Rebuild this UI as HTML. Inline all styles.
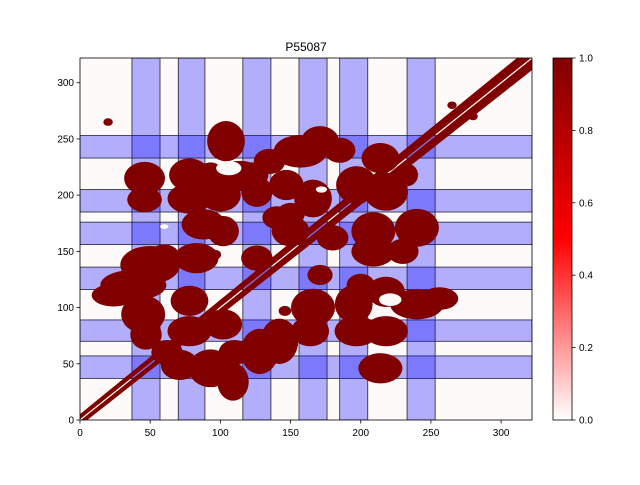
<!DOCTYPE html>
<html><head><meta charset="utf-8"><style>
body{margin:0;background:#fff;font-family:"Liberation Sans",sans-serif;}
svg text{font-family:"Liberation Sans",sans-serif;}
</style></head><body>
<svg id="chart" width="640" height="480" xmlns="http://www.w3.org/2000/svg">
<defs>
<linearGradient id="cbg" x1="0" y1="1" x2="0" y2="0">
<stop offset="0" stop-color="#ffffff"/><stop offset="0.5" stop-color="#ff0000"/><stop offset="1" stop-color="#800000"/>
</linearGradient>
<clipPath id="clip"><rect x="80" y="58" width="452" height="362"/></clipPath>
</defs>
<text x="306" y="51" text-anchor="middle" font-size="12">P55087</text>
<g id="plot" clip-path="url(#clip)"></g>
<g id="axes"></g>
<rect x="553" y="58" width="19" height="362" fill="url(#cbg)" stroke="#000" stroke-width="0.8"/>
<g id="cbar"></g>
</svg>
<script>
const xMax=322, yMax=322;
const bandStarts=[37,70,116,156,185,233];
const bandEnds=[57,89,136,176,205,253];
const xTicks=[0,50,100,150,200,250,300];
const yTicks=[0,50,100,150,200,250,300];
const cbTicks=[0.0,0.2,0.4,0.6,0.8,1.0];
// contact blobs: center x, center y, radius x, radius y (residue units)
const blobX=[46,46,78,78,104,114,93,123,100,126,157,171,147,166,197,214,218,233,88,102,150,209,240,209,50,38,24,83,45,47,78,78,102,93,109,71,128,142,166,164,195,197,218,240,218,256,214,180,126,150,171,96,146,60,135,185,230,62,110,140,200,265,280,20];
const blobY=[215,196,218,197,248,217,218,218,200,203,239,248,209,197,209,233,203,218,174,168,168,168,171,150,138,120,111,144,94,76,106,79,85,46,34,49,61,70,100,79,103,79,114,103,79,108,46,162,144,183,129,147,97,145,230,240,150,60,60,180,120,280,270,265];
const blobRX=[13,11,13,14,12,16,8,10,13,10,17,12,11,12,13,12,14,7,14,10,12,14,14,14,19,21,14,14,14,10,12,14,12,14,10,12,12,12,14,12,12,14,12,17,14,12,14,10,10,9,8,4,4,10,10,10,10,10,10,9,9,3,3,3];
const blobRY=[13,10,13,12,16,12,10,10,13,12,13,12,12,15,15,12,15,9,12,12,12,15,15,12,15,12,9,12,15,12,12,12,12,15,15,12,18,18,15,12,15,12,12,12,12,9,12,10,10,9,8,4,4,10,10,10,10,10,10,9,9,3,3,3];
// empty (zero-contact) holes inside contact rings
const holeX=[106,221,172,60];
const holeY=[224,107,205,172];
const holeR=[9,8,4,3];
const blobScale=1.12;
const X0=80,X1=532,Y0=420,Y1=58;
const sx=v=>X0+v/xMax*(X1-X0);
const sy=v=>Y0-v/yMax*(Y0-Y1);
const NS="http://www.w3.org/2000/svg";
function mk(tag,attrs,parent){const e=document.createElementNS(NS,tag);for(const k in attrs)e.setAttribute(k,attrs[k]);parent.appendChild(e);return e;}
const plot=document.getElementById('plot'),axes=document.getElementById('axes'),cbar=document.getElementById('cbar');
const bg=mk('rect',{x:X0,y:Y1,width:X1-X0,height:Y0-Y1,fill:'#fffafa'},plot);


for(let i=0;i<bandStarts.length;i++){
  const v=mk('rect',{x:sx(bandStarts[i]),y:Y1,width:sx(bandEnds[i])-sx(bandStarts[i]),height:Y0-Y1,fill:'rgba(0,0,255,0.3)',stroke:'#223',"stroke-width":0.8},plot);
  
  
  const h=mk('rect',{x:X0,y:sy(bandEnds[i]),width:X1-X0,height:sy(bandStarts[i])-sy(bandEnds[i]),fill:'rgba(0,0,255,0.3)',stroke:'#223',"stroke-width":0.8},plot);
  
  
}
for(let i=0;i<blobX.length;i++){
  const b=mk('ellipse',{cx:sx(blobX[i]),cy:sy(blobY[i]),rx:blobScale*blobRX[i]/xMax*(X1-X0),ry:blobScale*blobRY[i]/yMax*(Y0-Y1),fill:'#800000'},plot);
  
  
}
for(let i=0;i<holeX.length;i++){
  const h=mk('ellipse',{cx:sx(holeX[i]),cy:sy(holeY[i]),rx:holeR[i]/xMax*(X1-X0),ry:holeR[i]*0.7/yMax*(Y0-Y1),fill:'#fffafa'},plot);
  
  
}
// diagonal contact band with zero gap
const dA=mk('polygon',{points:`${sx(-10)},${sy(-5)} ${sx(xMax)},${sy(xMax+11)} ${sx(xMax)},${sy(xMax+0.7)} ${sx(-10)},${sy(-9.3)}`,fill:'#800000'},plot);


const dB=mk('polygon',{points:`${sx(-5)},${sy(-10)} ${sx(xMax+11)},${sy(xMax)} ${sx(xMax+0.7)},${sy(xMax)} ${sx(-9.3)},${sy(-10)}`,fill:'#800000'},plot);


const frame=mk('rect',{x:X0,y:Y1,width:X1-X0,height:Y0-Y1,fill:'none',stroke:'#000',"stroke-width":0.8},axes);


xTicks.forEach(t=>{
  mk('line',{x1:sx(t),x2:sx(t),y1:Y0,y2:Y0+3.5,stroke:'#000',"stroke-width":0.8},axes);
  const l=mk('text',{x:sx(t),y:Y0+16,"text-anchor":"middle","font-size":10},axes);
  l.textContent=t;
  
  
});
yTicks.forEach(t=>{
  mk('line',{x1:X0-3.5,x2:X0,y1:sy(t),y2:sy(t),stroke:'#000',"stroke-width":0.8},axes);
  const l=mk('text',{x:X0-6,y:sy(t)+3.5,"text-anchor":"end","font-size":10},axes);
  l.textContent=t;
  
  
});
cbTicks.forEach(t=>{
  const y=420-t*362;
  mk('line',{x1:572,x2:575.5,y1:y,y2:y,stroke:'#000',"stroke-width":0.8},cbar);
  const l=mk('text',{x:579,y:y+3.5,"font-size":10},cbar);
  l.textContent=t.toFixed(1);
  
  
});
</script>
</body></html>
